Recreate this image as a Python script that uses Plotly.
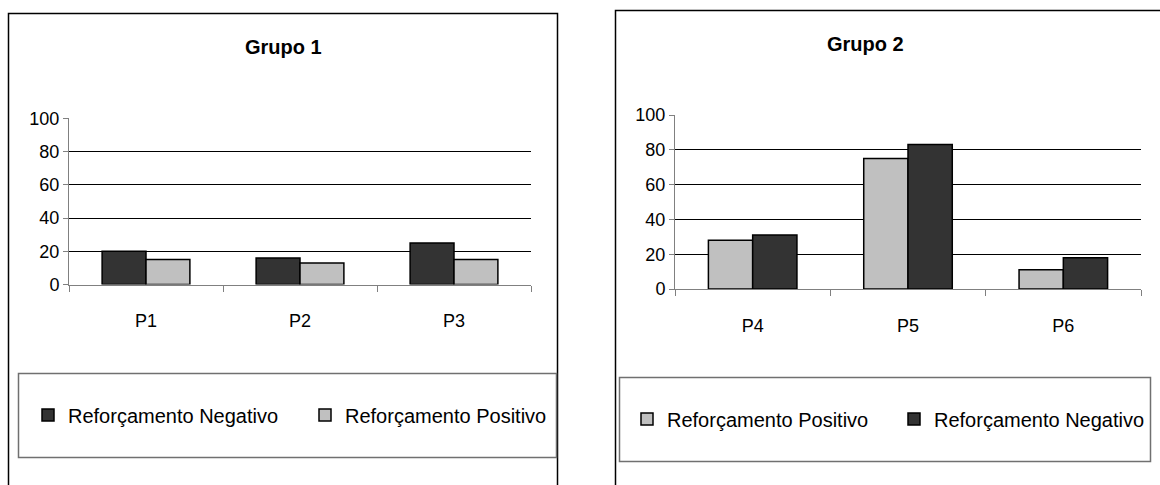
import plotly.graph_objects as go

W, H = 1160, 485

# Data
grupo1_participantes = ["P1", "P2", "P3"]
grupo1_negativo = [20, 16, 25]
grupo1_positivo = [15, 13, 15]

grupo2_participantes = ["P4", "P5", "P6"]
grupo2_positivo = [28, 75, 11]
grupo2_negativo = [31, 83, 18]

y_ticks = [0, 20, 40, 60, 80, 100]

COR_NEG = "#333333"
COR_POS = "#C0C0C0"
FONT = "Liberation Sans, Arial, sans-serif"


def fx(px):
    return px / W


def fy(px):
    return 1 - px / H


bar_line = dict(color="black", width=1.5)

fig = go.Figure()

# Grupo 1
fig.add_trace(go.Bar(x=grupo1_participantes, y=grupo1_negativo, name="Reforçamento Negativo",
                     marker=dict(color=COR_NEG, line=bar_line), xaxis="x", yaxis="y", legend="legend"))
fig.add_trace(go.Bar(x=grupo1_participantes, y=grupo1_positivo, name="Reforçamento Positivo",
                     marker=dict(color=COR_POS, line=bar_line), xaxis="x", yaxis="y", legend="legend"))

# Grupo 2
fig.add_trace(go.Bar(x=grupo2_participantes, y=grupo2_positivo, name="Reforçamento Positivo",
                     marker=dict(color=COR_POS, line=bar_line), xaxis="x2", yaxis="y2", legend="legend2"))
fig.add_trace(go.Bar(x=grupo2_participantes, y=grupo2_negativo, name="Reforçamento Negativo",
                     marker=dict(color=COR_NEG, line=bar_line), xaxis="x2", yaxis="y2", legend="legend2"))

xaxis_style = dict(type="category", showline=True, linecolor="#808080", linewidth=1,
                   ticks="outside", tickson="boundaries", ticklen=6, tickcolor="#808080",
                   showgrid=False, zeroline=False, ticklabelstandoff=20,
                   tickfont=dict(family=FONT, size=18, color="black"), fixedrange=True)
yaxis_style = dict(range=[0, 100], tickvals=y_ticks, showline=True, linecolor="#808080", linewidth=1,
                   ticks="outside", ticklen=5, tickcolor="#808080", showgrid=True,
                   gridcolor="black", gridwidth=1, zeroline=False,
                   tickfont=dict(family=FONT, size=18, color="black"), fixedrange=True)

legend_style = dict(orientation="h", xanchor="left", yanchor="middle", bgcolor="rgba(0,0,0,0)",
                    borderwidth=0, font=dict(family=FONT, size=20, color="black"),
                    entrywidthmode="pixels", traceorder="normal")

fig.update_layout(
    width=W, height=H, margin=dict(l=0, r=0, t=0, b=0, autoexpand=False),
    paper_bgcolor="white", plot_bgcolor="white",
    barmode="group", bargap=0.43, bargroupgap=0,
    font=dict(family=FONT, color="black"),
    xaxis=dict(domain=[fx(69), fx(531)], anchor="y", **xaxis_style),
    yaxis=dict(domain=[fy(284.5), fy(118.3)], anchor="x", **yaxis_style),
    xaxis2=dict(domain=[fx(675), fx(1141)], anchor="y2", **xaxis_style),
    yaxis2=dict(domain=[fy(289), fy(115)], anchor="x2", **yaxis_style),
    legend=dict(x=fx(28), y=fy(415), entrywidth=232, **legend_style),
    legend2=dict(x=fx(627), y=fy(419), entrywidth=222, **legend_style),
    showlegend=True,
)

# Chart frames and legend boxes
fig.add_shape(type="rect", xref="paper", yref="paper", x0=fx(8.5), x1=fx(557.5), y0=fy(13.5), y1=fy(500),
              line=dict(color="black", width=1.5), layer="below")
fig.add_shape(type="rect", xref="paper", yref="paper", x0=fx(615.5), x1=fx(1175), y0=fy(10.5), y1=fy(500),
              line=dict(color="black", width=1.5), layer="below")
fig.add_shape(type="rect", xref="paper", yref="paper", x0=fx(18.5), x1=fx(556.5), y0=fy(373.5), y1=fy(457.5),
              line=dict(color="#707070", width=1.5), layer="below")
fig.add_shape(type="rect", xref="paper", yref="paper", x0=fx(619.5), x1=fx(1150.5), y0=fy(377.5), y1=fy(461.5),
              line=dict(color="#707070", width=1.5), layer="below")

# Titles
fig.add_annotation(text="<b>Grupo 1</b>", xref="paper", yref="paper", x=fx(283), y=fy(47),
                   xanchor="center", yanchor="middle", showarrow=False,
                   font=dict(family=FONT, size=20, color="black"))
fig.add_annotation(text="<b>Grupo 2</b>", xref="paper", yref="paper", x=fx(865), y=fy(44),
                   xanchor="center", yanchor="middle", showarrow=False,
                   font=dict(family=FONT, size=20, color="black"))

fig.write_html("out.html", config={"displayModeBar": False})
